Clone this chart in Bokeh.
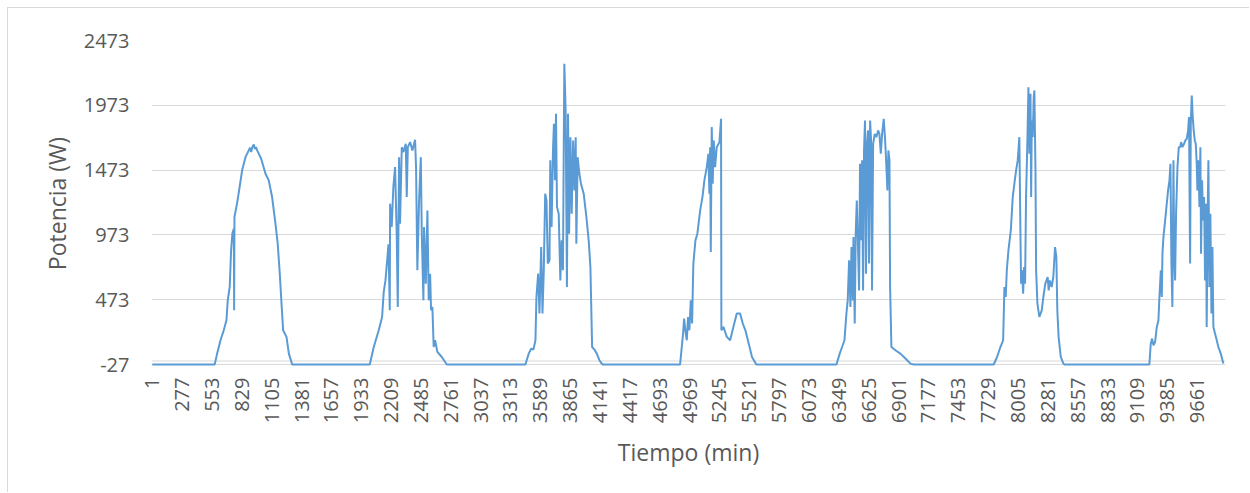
import math
from bokeh.plotting import figure
from bokeh.models import FixedTicker, Span, Range1d, PrintfTickFormatter
from bokeh.embed import file_html
from bokeh.resources import INLINE

NIGHT = -27

day1_t = [578, 601, 632, 662, 687, 699, 717, 730, 742, 755, 758, 761, 785, 804, 832, 863, 893, 905, 915, 928, 940, 950, 960, 971, 1008, 1048, 1078, 1109, 1140, 1161, 1180, 1198, 1211, 1242, 1264, 1295]
day1_w = [-27, 57, 160, 237, 314, 468, 571, 854, 985, 1020, 391, 1111, 1216, 1316, 1471, 1573, 1625, 1645, 1612, 1655, 1670, 1635, 1650, 1625, 1561, 1445, 1394, 1265, 1060, 906, 674, 417, 237, 186, 57, -27]

day2_t = [2012, 2049, 2095, 2126, 2141, 2157, 2173, 2185, 2197, 2200, 2215, 2230, 2246, 2261, 2271, 2283, 2292, 2308, 2323, 2345, 2354, 2364, 2385, 2406, 2431, 2440, 2452, 2468, 2484, 2493, 2508, 2514, 2530, 2545, 2557, 2570, 2579, 2591, 2603, 2616, 2637, 2678, 2724]
day2_w = [-27, 108, 237, 340, 532, 622, 777, 900, 391, 1214, 1034, 1342, 1496, 982, 417, 1573, 1060, 1650, 1612, 1676, 1265, 1650, 1689, 1625, 1707, 1496, 700, 1239, 1573, 982, 468, 1034, 597, 1162, 468, 674, 391, 417, 108, 160, 70, 31, -27]

day3_t = [3451, 3482, 3504, 3525, 3544, 3553, 3569, 3581, 3597, 3609, 3621, 3634, 3646, 3658, 3674, 3681, 3693, 3706, 3715, 3725, 3734, 3743, 3759, 3774, 3786, 3798, 3811, 3823, 3835, 3845, 3855, 3867, 3879, 3892, 3904, 3916, 3922, 3934, 3950, 3965, 3990, 4015, 4036, 4052, 4068, 4089, 4111, 4135, 4157, 4165]
day3_w = [-27, 57, 96, 88, 160, 494, 674, 366, 879, 366, 700, 1291, 1239, 752, 777, 1548, 1034, 1625, 1831, 1394, 1908, 1188, 1137, 622, 931, 700, 2293, 1933, 571, 1908, 982, 1727, 1137, 1702, 1316, 1727, 905, 1573, 1445, 1368, 1291, 1111, 931, 725, 108, 88, 57, 6, -20, -27]

day4_t = [4881, 4909, 4918, 4930, 4943, 4955, 4967, 4980, 4992, 5004, 5023, 5041, 5067, 5088, 5106, 5128, 5143, 5152, 5159, 5165, 5174, 5183, 5192, 5205, 5220, 5245, 5260, 5263, 5282, 5313, 5344, 5374, 5405, 5436, 5461, 5485, 5516, 5546, 5586]
day4_w = [-27, 212, 327, 237, 160, 340, 237, 468, 289, 752, 931, 982, 1162, 1265, 1394, 1496, 1599, 1291, 1650, 841, 1805, 1368, 1702, 1496, 1650, 1689, 1869, 237, 263, 186, 160, 263, 366, 366, 289, 237, 134, 31, -27]

day5_t = [6327, 6357, 6379, 6401, 6419, 6431, 6444, 6456, 6466, 6478, 6484, 6496, 6505, 6515, 6527, 6536, 6545, 6555, 6564, 6573, 6582, 6591, 6600, 6610, 6619, 6628, 6638, 6647, 6656, 6666, 6681, 6696, 6712, 6724, 6737, 6749, 6764, 6777, 6789, 6798, 6807, 6817, 6823, 6835, 6872, 6918, 6965, 7011, 7042]
day5_w = [-27, 57, 108, 160, 366, 468, 777, 417, 879, 468, 956, 289, 982, 1239, 854, 545, 1522, 931, 1548, 545, 1625, 1856, 674, 1676, 1779, 752, 1856, 1702, 545, 1676, 1753, 1727, 1779, 1753, 1599, 1753, 1869, 1702, 1496, 1316, 1625, 1548, 571, 108, 83, 57, 19, -20, -27]

day6_t = [7781, 7812, 7843, 7868, 7880, 7892, 7902, 7917, 7939, 7957, 7972, 7988, 8003, 8018, 8027, 8034, 8043, 8053, 8062, 8071, 8080, 8093, 8102, 8111, 8121, 8127, 8133, 8142, 8151, 8157, 8167, 8173, 8185, 8203, 8225, 8240, 8258, 8280, 8289, 8301, 8317, 8332, 8348, 8360, 8369, 8381, 8401, 8425, 8435]
day6_w = [-27, 31, 108, 160, 571, 494, 700, 854, 1008, 1265, 1368, 1471, 1548, 1727, 1060, 597, 700, 520, 725, 597, 1265, 1727, 2113, 1599, 2062, 1265, 1856, 1727, 2036, 2088, 1471, 700, 443, 340, 391, 494, 597, 648, 545, 622, 571, 648, 879, 802, 391, 186, 31, -20, -27]

day7_t = [9220, 9233, 9245, 9258, 9273, 9289, 9304, 9313, 9326, 9335, 9341, 9350, 9366, 9381, 9393, 9406, 9415, 9424, 9433, 9443, 9449, 9458, 9467, 9480, 9492, 9504, 9514, 9526, 9541, 9553, 9566, 9578, 9587, 9593, 9597, 9603, 9612, 9621, 9630, 9640, 9649, 9658, 9664, 9673, 9683, 9692, 9698, 9707, 9717, 9726, 9735, 9744, 9750, 9760, 9766, 9775, 9784, 9794, 9803, 9812, 9827, 9843, 9858, 9880, 9904]
day7_w = [-27, 134, 173, 121, 147, 263, 314, 494, 700, 494, 828, 956, 1085, 1214, 1316, 1394, 1522, 752, 417, 1548, 879, 622, 1137, 1496, 1650, 1650, 1689, 1650, 1676, 1702, 1715, 1779, 1882, 1137, 752, 1831, 2049, 1882, 1779, 1702, 1676, 1522, 1316, 1548, 1188, 1650, 828, 1394, 1085, 1265, 622, 1214, 263, 1188, 1548, 571, 1137, 366, 879, 263, 212, 160, 108, 57, -20]

x_ticks = [1, 277, 553, 829, 1105, 1381, 1657, 1933, 2209, 2485, 2761, 3037, 3313, 3589, 3865, 4141, 4417, 4693, 4969, 5245, 5521, 5797, 6073, 6349, 6625, 6901, 7177, 7453, 7729, 8005, 8281, 8557, 8833, 9109, 9385, 9661]
y_ticks = [-27, 473, 973, 1473, 1973, 2473]

days_t = [day1_t, day2_t, day3_t, day4_t, day5_t, day6_t, day7_t]
days_w = [day1_w, day2_w, day3_w, day4_w, day5_w, day6_w, day7_w]

t = [1]
w = [NIGHT]
for dt, dw in zip(days_t, days_w):
    t += dt
    w += dw

FONT = "Open Sans"
TXT = "#595959"

p = figure(width=1242, height=485, output_backend="svg", toolbar_location=None,
           x_range=Range1d(-6, 9924), y_range=Range1d(-42.4, 2473),
           min_border_left=143, min_border_right=25, min_border_top=32, min_border_bottom=127,
           background_fill_color="white", border_fill_color="white",
           outline_line_color=None,
           styles={"border-left": "1px solid #d9d9d9", "border-top": "1px solid #d9d9d9",
                   "margin-left": "7px", "margin-top": "7px"})

p.line(t, w, line_color="#5b9bd5", line_width=2)

p.add_layout(Span(location=0, dimension="width", line_color="#d9d9d9", line_width=1, level="underlay"))

p.xgrid.grid_line_color = None
p.ygrid.ticker = FixedTicker(ticks=y_ticks)
p.ygrid.grid_line_color = "#d9d9d9"
p.ygrid.grid_line_width = 1

p.xaxis.ticker = FixedTicker(ticks=x_ticks)
p.yaxis.ticker = FixedTicker(ticks=y_ticks)
p.yaxis.formatter = PrintfTickFormatter(format="%d")
p.xaxis.major_label_orientation = math.pi / 2

for ax in (p.xaxis, p.yaxis):
    ax.axis_line_color = None
    ax.major_tick_line_color = None
    ax.minor_tick_line_color = None
    ax.major_tick_out = 0
    ax.major_tick_in = 0
    ax.major_label_text_font = FONT
    ax.major_label_text_font_size = "20px"
    ax.major_label_text_color = TXT
    ax.axis_label_text_font = FONT
    ax.axis_label_text_font_size = "23px"
    ax.axis_label_text_font_style = "normal"
    ax.axis_label_text_color = TXT

p.yaxis.major_label_standoff = 22
p.xaxis.major_label_standoff = 11
p.yaxis.axis_label_standoff = 8
p.xaxis.axis_label_standoff = 10
p.xaxis.axis_label = "Tiempo (min)"
p.yaxis.axis_label = "Potencia (W)"

open("out.html", "w").write(file_html(p, INLINE))
